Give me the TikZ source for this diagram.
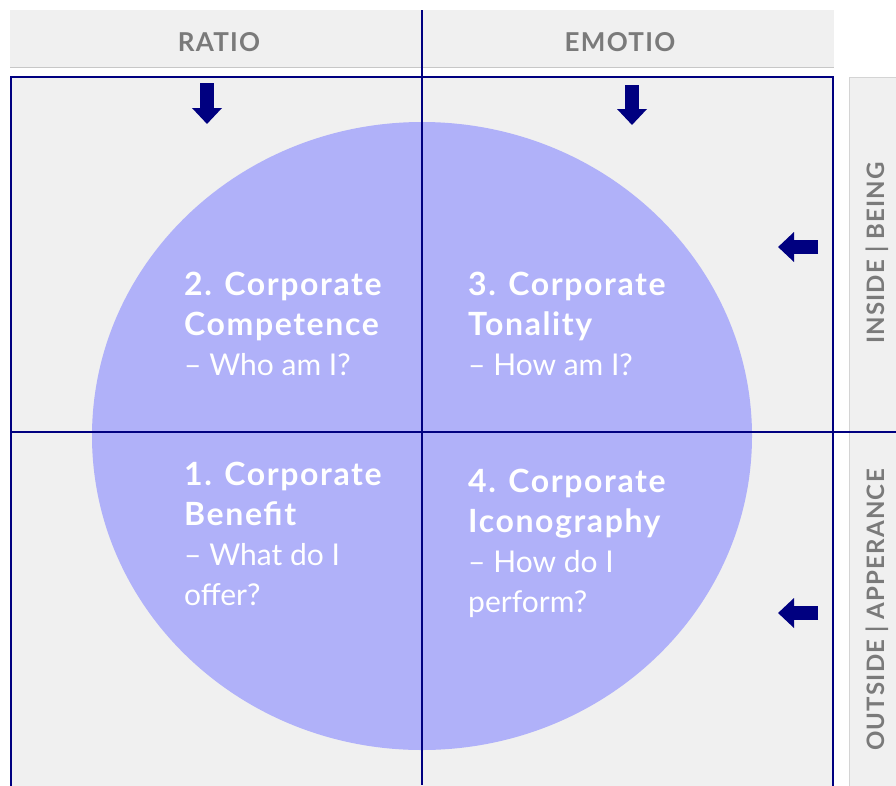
\documentclass[tikz,border=0pt]{standalone}
\usepackage{fontspec}
\setmainfont{Lato}
\newfontfamily\widebold{Lato}[LetterSpace=5, BoldFont={* Bold}]
\usetikzlibrary{arrows.meta}
\definecolor{navy}{HTML}{000080}
\definecolor{panelgray}{HTML}{F0F0F0}
\definecolor{labelgray}{HTML}{7A7A7A}
\definecolor{lilac}{HTML}{B0B1F9}
\newcommand{\qhead}[1]{{\widebold\bfseries\fontsize{32}{40}\selectfont #1}}

\begin{document}
\begin{tikzpicture}[x=1pt, y=-1pt,
    gridline/.style={draw=navy, line width=2.5pt},
    navyarrow/.style={draw=navy, line width=14pt, -{Triangle[width=29pt,length=16pt]}},
    headtext/.style={text=labelgray, font=\widebold\bfseries\fontsize{26}{30}\selectfont},
    sidetext/.style={text=labelgray, font=\widebold\bfseries\fontsize{24}{28}\selectfont, rotate=90},
    quadtext/.style={text=white, align=left, anchor=base west, inner sep=0pt,
        font=\fontsize{30}{40}\selectfont}]
    \useasboundingbox (0,0) rectangle (896,785);

    % header bar and side bar
    \fill[panelgray] (10,10) rectangle (834,67);
    \draw[black!22] (10,67) -- (834,67);
    \filldraw[fill=panelgray, draw=black!17] (849,77) rectangle (900,790);

    % main field
    \fill[panelgray] (11,77) rectangle (833,790);
    \fill[lilac] (422,436) ellipse (330 and 314);

    \draw[gridline] (422,10) -- (422,785);
    \draw[gridline] (11,432) -- (896,432);
    \draw[navy, line width=2pt] (11,790) -- (11,77) -- (833,77) -- (833,790);

    % arrows
    \draw[navyarrow] (207,83) -- (207,124);
    \draw[navyarrow] (632,85) -- (632,125);
    \draw[navyarrow] (818,247) -- (778,247);
    \draw[navyarrow] (818,613) -- (778,613);

    % labels
    \node[headtext] (ratio) at (219,42) {RATIO};
    \node[headtext] (emotio) at (620,42) {EMOTIO};
    \node[sidetext] (inside) at (877,253) {INSIDE | BEING};
    \node[sidetext] (outside) at (877,610) {OUTSIDE | APPERANCE};

    % base anchor sits on the last line
    \node[quadtext] (competence) at (184,375) {\qhead{2. Corporate}\\\qhead{Competence}\\– Who am I?};
    \node[quadtext] (tonality) at (468,375) {\qhead{3. Corporate}\\\qhead{Tonality}\\– How am I?};
    \node[quadtext] (benefit) at (184,605) {\qhead{1. Corporate}\\\qhead{Benefit}\\– What do I\\offer?};
    \node[quadtext] (iconography) at (468,612) {\qhead{4. Corporate}\\\qhead{Iconography}\\– How do I\\perform?};
\end{tikzpicture}
\end{document}
